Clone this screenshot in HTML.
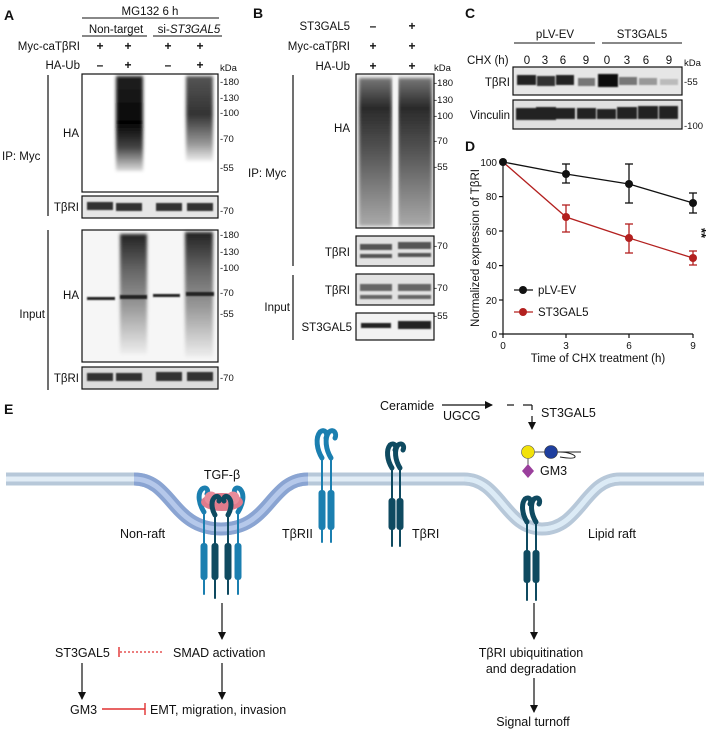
<!DOCTYPE html>
<html><head><meta charset="utf-8"><style>
html,body{margin:0;padding:0;background:#fff}
svg{display:block}
text{font-family:"Liberation Sans",sans-serif;fill:#111}
</style></head><body>
<svg width="708" height="733" viewBox="0 0 708 733" xmlns="http://www.w3.org/2000/svg">
<defs>
<filter id="b1" x="-20%" y="-20%" width="140%" height="140%"><feGaussianBlur stdDeviation="1.6"/></filter>
<filter id="b2" x="-20%" y="-20%" width="140%" height="140%"><feGaussianBlur stdDeviation="0.9"/></filter>
<linearGradient id="smA" x1="0" y1="0" x2="0" y2="1"><stop offset="0" stop-color="#222"/><stop offset="0.5" stop-color="#050505"/><stop offset="0.75" stop-color="#444"/><stop offset="1" stop-color="#ddd"/></linearGradient>
<linearGradient id="smA2" x1="0" y1="0" x2="0" y2="1"><stop offset="0" stop-color="#555"/><stop offset="0.45" stop-color="#333"/><stop offset="0.8" stop-color="#999"/><stop offset="1" stop-color="#eee"/></linearGradient>
<linearGradient id="smI" x1="0" y1="0" x2="0" y2="1"><stop offset="0" stop-color="#222"/><stop offset="0.3" stop-color="#666"/><stop offset="0.6" stop-color="#999"/><stop offset="1" stop-color="#eee"/></linearGradient>
<linearGradient id="smB" x1="0" y1="0" x2="0" y2="1"><stop offset="0" stop-color="#777"/><stop offset="0.2" stop-color="#2a2a2a"/><stop offset="0.5" stop-color="#555"/><stop offset="1" stop-color="#aaa"/></linearGradient>
<marker id="ar" markerWidth="8" markerHeight="8" refX="7" refY="4" orient="auto" markerUnits="userSpaceOnUse"><path d="M0,0 L8,4 L0,8 z" fill="#111"/></marker>
</defs>

<!-- ===== Panel A ===== -->
<text x="4" y="20" font-size="14" font-weight="bold">A</text>
<text x="150" y="15" font-size="11.5" text-anchor="middle">MG132 6 h</text>
<line x1="82" y1="18" x2="219" y2="18" stroke="#111" stroke-width="1"/>
<text x="116" y="33" font-size="11.5" text-anchor="middle">Non-target</text>
<line x1="82" y1="36" x2="147" y2="36" stroke="#111"/>
<text x="189" y="33" font-size="11.5" text-anchor="middle">si-<tspan font-style="italic">ST3GAL5</tspan></text>
<line x1="153" y1="36" x2="222" y2="36" stroke="#111"/>
<text x="80" y="50" font-size="11.5" text-anchor="end">Myc-caTβRI</text>
<text x="80" y="69" font-size="11.5" text-anchor="end">HA-Ub</text>
<g font-size="12" text-anchor="middle" font-weight="bold">
<text x="100" y="50">+</text><text x="128" y="50">+</text><text x="168" y="50">+</text><text x="200" y="50">+</text>
<text x="100" y="69">–</text><text x="128" y="69">+</text><text x="168" y="69">–</text><text x="200" y="69">+</text>
</g>
<text x="220" y="71" font-size="9.5">kDa</text>
<g filter="url(#b1)">
<rect x="116" y="76" width="27" height="95" fill="url(#smA)"/>
<rect x="186" y="76" width="27" height="85" fill="url(#smA2)"/>
</g>
<rect x="82" y="74" width="136" height="118" fill="none" stroke="#111" stroke-width="1.2"/>
<rect x="82" y="196" width="136" height="22" fill="#e6e6e6"/>
<g filter="url(#b2)" fill="#333">
<rect x="87" y="202" width="26" height="8"/><rect x="116" y="203" width="26" height="8"/><rect x="156" y="203" width="26" height="8"/><rect x="187" y="203" width="26" height="8"/>
</g>
<rect x="82" y="196" width="136" height="22" fill="none" stroke="#111" stroke-width="1.2"/>
<rect x="82" y="230" width="136" height="132" fill="#f6f6f6"/>
<g filter="url(#b1)">
<rect x="120" y="234" width="27" height="120" fill="url(#smI)"/>
<rect x="185" y="232" width="28" height="125" fill="url(#smI)"/>
</g>
<g filter="url(#b2)" fill="#222">
<rect x="87" y="297" width="28" height="3"/><rect x="120" y="295" width="27" height="4"/><rect x="153" y="294" width="27" height="3"/><rect x="186" y="292" width="28" height="4"/>
</g>
<rect x="82" y="230" width="136" height="132" fill="none" stroke="#111" stroke-width="1.2"/>
<rect x="82" y="367" width="136" height="22" fill="#ddd"/>
<g filter="url(#b2)" fill="#333">
<rect x="87" y="373" width="26" height="8"/><rect x="116" y="373" width="26" height="8"/><rect x="156" y="372" width="26" height="9"/><rect x="187" y="372" width="26" height="9"/>
</g>
<rect x="82" y="367" width="136" height="22" fill="none" stroke="#111" stroke-width="1.2"/>
<g font-size="9.5">
<text x="220" y="85">-180</text><text x="220" y="101">-130</text><text x="220" y="116">-100</text><text x="220" y="142">-70</text><text x="220" y="171">-55</text>
<text x="220" y="214">-70</text>
<text x="220" y="238">-180</text><text x="220" y="255">-130</text><text x="220" y="271">-100</text><text x="220" y="296">-70</text><text x="220" y="317">-55</text>
<text x="220" y="381">-70</text>
</g>
<text x="79" y="137" font-size="11.5" text-anchor="end">HA</text>
<text x="79" y="211" font-size="11.5" text-anchor="end">TβRI</text>
<text x="79" y="299" font-size="11.5" text-anchor="end">HA</text>
<text x="79" y="382" font-size="11.5" text-anchor="end">TβRI</text>
<line x1="48" y1="75" x2="48" y2="216" stroke="#111" stroke-width="1.2"/>
<text x="2" y="160" font-size="11.5">IP: Myc</text>
<line x1="48" y1="230" x2="48" y2="390" stroke="#111" stroke-width="1.2"/>
<text x="45" y="318" font-size="11.5" text-anchor="end">Input</text>

<!-- ===== Panel B ===== -->
<text x="253" y="18" font-size="14" font-weight="bold">B</text>
<text x="350" y="30" font-size="11.5" text-anchor="end">ST3GAL5</text>
<text x="350" y="50" font-size="11.5" text-anchor="end">Myc-caTβRI</text>
<text x="350" y="70" font-size="11.5" text-anchor="end">HA-Ub</text>
<g font-size="12" text-anchor="middle" font-weight="bold">
<text x="373" y="30">–</text><text x="412" y="30">+</text>
<text x="373" y="50">+</text><text x="412" y="50">+</text>
<text x="373" y="70">+</text><text x="412" y="70">+</text>
</g>
<text x="434" y="71" font-size="9.5">kDa</text>
<rect x="356" y="74" width="78" height="154" fill="#eee"/>
<g filter="url(#b1)">
<rect x="359" y="78" width="33" height="148" fill="url(#smB)"/>
<rect x="398" y="78" width="34" height="148" fill="url(#smB)"/>
</g>
<rect x="393" y="74" width="5" height="154" fill="#f4f4f4" filter="url(#b2)"/>
<rect x="356" y="74" width="78" height="154" fill="none" stroke="#111" stroke-width="1.2"/>
<rect x="356" y="236" width="78" height="30" fill="#e2e2e2"/>
<g filter="url(#b2)" fill="#555"><rect x="360" y="244" width="32" height="6"/><rect x="398" y="242" width="33" height="7"/><rect x="360" y="254" width="32" height="4"/><rect x="398" y="253" width="33" height="4"/></g>
<rect x="356" y="236" width="78" height="30" fill="none" stroke="#111" stroke-width="1.2"/>
<rect x="356" y="274" width="78" height="31" fill="#e2e2e2"/>
<g filter="url(#b2)" fill="#666"><rect x="360" y="284" width="32" height="7"/><rect x="398" y="284" width="33" height="7"/><rect x="360" y="295" width="32" height="4"/><rect x="398" y="295" width="33" height="4"/></g>
<rect x="356" y="274" width="78" height="31" fill="none" stroke="#111" stroke-width="1.2"/>
<rect x="356" y="313" width="78" height="27" fill="#f2f2f2"/>
<g filter="url(#b2)" fill="#222"><rect x="361" y="323" width="30" height="5"/><rect x="398" y="321" width="33" height="8"/></g>
<rect x="356" y="313" width="78" height="27" fill="none" stroke="#111" stroke-width="1.2"/>
<g font-size="9.5">
<text x="434" y="86">-180</text><text x="434" y="103">-130</text><text x="434" y="119">-100</text><text x="434" y="144">-70</text><text x="434" y="170">-55</text>
<text x="434" y="249">-70</text><text x="434" y="291">-70</text><text x="434" y="319">-55</text>
</g>
<text x="350" y="132" font-size="11.5" text-anchor="end">HA</text>
<text x="350" y="256" font-size="11.5" text-anchor="end">TβRI</text>
<text x="350" y="294" font-size="11.5" text-anchor="end">TβRI</text>
<text x="352" y="331" font-size="11.5" text-anchor="end">ST3GAL5</text>
<line x1="293" y1="75" x2="293" y2="266" stroke="#111" stroke-width="1.2"/>
<text x="248" y="177" font-size="11.5">IP: Myc</text>
<line x1="293" y1="275" x2="293" y2="340" stroke="#111" stroke-width="1.2"/>
<text x="290" y="311" font-size="11.5" text-anchor="end">Input</text>

<!-- ===== Panel C ===== -->
<text x="465" y="18" font-size="14" font-weight="bold">C</text>
<text x="555" y="38" font-size="11.5" text-anchor="middle">pLV-EV</text>
<line x1="514" y1="43" x2="595" y2="43" stroke="#111"/>
<text x="642" y="38" font-size="11.5" text-anchor="middle">ST3GAL5</text>
<line x1="602" y1="43" x2="682" y2="43" stroke="#111"/>
<text x="467" y="64" font-size="11.5">CHX (h)</text>
<g font-size="11.5" text-anchor="middle">
<text x="527" y="64">0</text><text x="545" y="64">3</text><text x="563" y="64">6</text><text x="586" y="64">9</text>
<text x="607" y="64">0</text><text x="627" y="64">3</text><text x="646" y="64">6</text><text x="669" y="64">9</text>
</g>
<text x="684" y="66" font-size="9.5">kDa</text>
<rect x="513" y="67" width="169" height="28" fill="#e6e6e6"/>
<g filter="url(#b2)">
<rect x="517" y="75" width="19" height="10" fill="#222"/><rect x="537" y="76" width="18" height="10" fill="#333"/><rect x="556" y="75" width="18" height="10" fill="#222"/><rect x="578" y="78" width="17" height="8" fill="#777"/>
<rect x="598" y="74" width="20" height="13" fill="#111"/><rect x="619" y="77" width="18" height="8" fill="#777"/><rect x="639" y="78" width="18" height="7" fill="#999"/><rect x="660" y="79" width="18" height="6" fill="#bbb"/>
</g>
<rect x="513" y="67" width="169" height="28" fill="none" stroke="#111" stroke-width="1.2"/>
<rect x="513" y="100" width="169" height="29" fill="#e0e0e0"/>
<g filter="url(#b2)" fill="#222">
<rect x="516" y="108" width="20" height="12"/><rect x="536" y="107" width="20" height="13"/><rect x="556" y="108" width="19" height="11"/><rect x="577" y="108" width="19" height="11"/>
<rect x="597" y="109" width="19" height="10"/><rect x="617" y="107" width="20" height="12"/><rect x="638" y="106" width="20" height="13"/><rect x="659" y="106" width="19" height="13"/>
</g>
<rect x="513" y="100" width="169" height="29" fill="none" stroke="#111" stroke-width="1.2"/>
<text x="684" y="85" font-size="9.5">-55</text>
<text x="684" y="129" font-size="9.5">-100</text>
<text x="510" y="86" font-size="11.5" text-anchor="end">TβRI</text>
<text x="510" y="119" font-size="11.5" text-anchor="end">Vinculin</text>

<!-- ===== Panel D ===== -->
<text x="465" y="151" font-size="14" font-weight="bold">D</text>
<line x1="503" y1="160" x2="503" y2="334" stroke="#111" stroke-width="1.2"/>
<line x1="503" y1="334" x2="693" y2="334" stroke="#111" stroke-width="1.2"/>
<g stroke="#111" stroke-width="1.2">
<line x1="499" y1="162" x2="503" y2="162"/><line x1="499" y1="196.6" x2="503" y2="196.6"/><line x1="499" y1="231" x2="503" y2="231"/><line x1="499" y1="265.6" x2="503" y2="265.6"/><line x1="499" y1="300" x2="503" y2="300"/><line x1="499" y1="334" x2="503" y2="334"/>
<line x1="503" y1="334" x2="503" y2="338"/><line x1="566" y1="334" x2="566" y2="338"/><line x1="629" y1="334" x2="629" y2="338"/><line x1="693" y1="334" x2="693" y2="338"/>
</g>
<g font-size="10" text-anchor="end">
<text x="497" y="166">100</text><text x="497" y="200">80</text><text x="497" y="235">60</text><text x="497" y="269">40</text><text x="497" y="304">20</text><text x="497" y="338">0</text>
</g>
<g font-size="10" text-anchor="middle">
<text x="503" y="349">0</text><text x="566" y="349">3</text><text x="629" y="349">6</text><text x="693" y="349">9</text>
</g>
<text x="598" y="362" font-size="11.5" text-anchor="middle">Time of CHX treatment (h)</text>
<text transform="translate(479,248) rotate(-90)" font-size="11.5" text-anchor="middle">Normalized expression of TβRI</text>
<g stroke="#b3201f" stroke-width="1.3" fill="none">
<polyline points="503,162 566,217 629,238 693,258"/>
<line x1="566" y1="205" x2="566" y2="232"/><line x1="562" y1="205" x2="570" y2="205"/><line x1="562" y1="232" x2="570" y2="232"/>
<line x1="629" y1="224" x2="629" y2="253"/><line x1="625" y1="224" x2="633" y2="224"/><line x1="625" y1="253" x2="633" y2="253"/>
<line x1="693" y1="251" x2="693" y2="265"/><line x1="689" y1="251" x2="697" y2="251"/><line x1="689" y1="265" x2="697" y2="265"/>
</g>
<g fill="#b3201f"><circle cx="566" cy="217" r="4"/><circle cx="629" cy="238" r="4"/><circle cx="693" cy="258" r="4"/></g>
<g stroke="#111" stroke-width="1.3" fill="none">
<polyline points="503,162 566,174 629,184 693,203"/>
<line x1="566" y1="164" x2="566" y2="183"/><line x1="562" y1="164" x2="570" y2="164"/><line x1="562" y1="183" x2="570" y2="183"/>
<line x1="629" y1="164" x2="629" y2="203"/><line x1="625" y1="164" x2="633" y2="164"/><line x1="625" y1="203" x2="633" y2="203"/>
<line x1="693" y1="193" x2="693" y2="213"/><line x1="689" y1="193" x2="697" y2="193"/><line x1="689" y1="213" x2="697" y2="213"/>
</g>
<g fill="#111"><circle cx="503" cy="162" r="4"/><circle cx="566" cy="174" r="4"/><circle cx="629" cy="184" r="4"/><circle cx="693" cy="203" r="4"/></g>
<text transform="translate(697,233) rotate(90)" font-size="13" font-weight="bold" text-anchor="middle">**</text>
<line x1="514" y1="290" x2="533" y2="290" stroke="#111" stroke-width="1.3"/><circle cx="523" cy="290" r="4" fill="#111"/>
<text x="538" y="294" font-size="11.5">pLV-EV</text>
<line x1="514" y1="312" x2="533" y2="312" stroke="#b3201f" stroke-width="1.3"/><circle cx="523" cy="312" r="4" fill="#b3201f"/>
<text x="538" y="316" font-size="11.5">ST3GAL5</text>

<!-- ===== Panel E ===== -->
<text x="4" y="414" font-size="14" font-weight="bold">E</text>
<path d="M6,479 H134 C172,479 172,529 221,529 C270,529 270,479 308,479 H464 C500,479 505,529 542,529 C580,529 585,479 620,479 H704" fill="none" stroke="#b7c8d9" stroke-width="13"/>
<path d="M6,479 H134 C172,479 172,529 221,529 C270,529 270,479 308,479 H464 C500,479 505,529 542,529 C580,529 585,479 620,479 H704" fill="none" stroke="#e2edf6" stroke-width="5"/>
<path d="M134,479 C172,479 172,529 221,529 C270,529 270,479 308,479" fill="none" stroke="#8aa4d2" stroke-width="13"/>
<path d="M134,479 C172,479 172,529 221,529 C270,529 270,479 308,479" fill="none" stroke="#b5c8ea" stroke-width="5"/>
<path d="M464,479 C500,479 505,529 542,529 C580,529 585,479 620,479" fill="none" stroke="#dcebf6" stroke-width="5"/>

<!-- TbRII -->
<g stroke="#1b7fb0" fill="none" stroke-linecap="round">
<path d="M322,458 C317,450 315,438 320,432 C325,428 328,434 326,438" stroke-width="5"/>
<path d="M331,458 C326,450 324,438 329,432 C334,428 337,434 335,438" stroke-width="5"/>
<line x1="322" y1="458" x2="322" y2="542" stroke-width="2"/><line x1="331" y1="458" x2="331" y2="542" stroke-width="2"/>
</g>
<rect x="318.5" y="490" width="7" height="40" rx="3" fill="#1b7fb0"/>
<rect x="327.5" y="490" width="7" height="40" rx="3" fill="#1b7fb0"/>
<!-- TbRI -->
<g stroke="#0f4a60" fill="none" stroke-linecap="round">
<path d="M392,468 C387,460 386,450 390,445 C394,442 397,446 395,450" stroke-width="5"/>
<path d="M400,468 C395,460 394,450 398,445 C402,442 405,446 403,450" stroke-width="5"/>
<line x1="392" y1="468" x2="392" y2="546" stroke-width="2"/><line x1="400" y1="468" x2="400" y2="546" stroke-width="2"/>
</g>
<rect x="388.5" y="498" width="7" height="32" rx="3" fill="#0f4a60"/>
<rect x="396.5" y="498" width="7" height="32" rx="3" fill="#0f4a60"/>
<!-- raft TbRI -->
<g stroke="#0f4a60" fill="none" stroke-linecap="round">
<path d="M527,522 C522,514 521,504 525,499 C529,496 532,500 530,504" stroke-width="5"/>
<path d="M536,522 C531,514 530,504 534,499 C538,496 541,500 539,504" stroke-width="5"/>
<line x1="527" y1="522" x2="527" y2="600" stroke-width="2"/><line x1="536" y1="522" x2="536" y2="600" stroke-width="2"/>
</g>
<rect x="523.5" y="550" width="7" height="33" rx="3" fill="#0f4a60"/>
<rect x="532.5" y="550" width="7" height="33" rx="3" fill="#0f4a60"/>
<!-- complex -->
<g stroke-linecap="round" fill="none">
<path d="M204,512 C199,504 197,494 202,489 C206,486 209,490 207,494" stroke="#1b7fb0" stroke-width="5"/>
<path d="M238,512 C243,504 245,494 240,489 C236,486 233,490 235,494" stroke="#1b7fb0" stroke-width="5"/>
</g>
<ellipse cx="222" cy="502" rx="21" ry="9" fill="#e07b8c"/>
<circle cx="211" cy="498" r="6.5" fill="#e88c9b"/><circle cx="233" cy="498" r="6.5" fill="#e88c9b"/>
<g stroke-linecap="round" fill="none">
<path d="M215,515 C211,508 211,500 215,497 C218,495 220,498 219,501" stroke="#0f4a60" stroke-width="5"/>
<path d="M228,515 C232,508 232,500 228,497 C225,495 223,498 224,501" stroke="#0f4a60" stroke-width="5"/>
<line x1="204" y1="512" x2="204" y2="594" stroke="#1b7fb0" stroke-width="2"/>
<line x1="238" y1="512" x2="238" y2="594" stroke="#1b7fb0" stroke-width="2"/>
<line x1="215" y1="515" x2="215" y2="598" stroke="#0f4a60" stroke-width="2"/>
<line x1="228" y1="515" x2="228" y2="594" stroke="#0f4a60" stroke-width="2"/>
</g>
<rect x="200.5" y="543" width="7" height="37" rx="3" fill="#1b7fb0"/>
<rect x="211.5" y="543" width="7" height="37" rx="3" fill="#0f4a60"/>
<rect x="224.5" y="543" width="7" height="37" rx="3" fill="#0f4a60"/>
<rect x="234.5" y="543" width="7" height="37" rx="3" fill="#1b7fb0"/>

<g font-size="12.5">
<text x="222" y="479" text-anchor="middle">TGF-β</text>
<text x="120" y="538">Non-raft</text>
<text x="282" y="538">TβRII</text>
<text x="412" y="538">TβRI</text>
<text x="588" y="538">Lipid raft</text>
<text x="380" y="410">Ceramide</text>
<text x="443" y="420">UGCG</text>
<text x="541" y="417">ST3GAL5</text>
<text x="540" y="475">GM3</text>
</g>
<line x1="442" y1="405" x2="492" y2="405" stroke="#111" stroke-width="1.2" marker-end="url(#ar)"/>
<line x1="507" y1="405" x2="514" y2="405" stroke="#111" stroke-width="1.2"/>
<line x1="523" y1="405" x2="532" y2="405" stroke="#111" stroke-width="1.2"/>
<line x1="532" y1="405" x2="532" y2="410" stroke="#111" stroke-width="1.2"/>
<line x1="532" y1="416" x2="532" y2="429" stroke="#111" stroke-width="1.2" marker-end="url(#ar)"/>
<line x1="528" y1="452" x2="551" y2="452" stroke="#555" stroke-width="1"/>
<line x1="528" y1="452" x2="528" y2="471" stroke="#555" stroke-width="1"/>
<path d="M557,452 H581 M560,452 C568,452 576,455 575,457 C574,459 566,458 560,457" fill="none" stroke="#222" stroke-width="1"/>
<circle cx="528" cy="452" r="6.5" fill="#f2e20a" stroke="#555" stroke-width="0.6"/>
<circle cx="551" cy="452" r="6.5" fill="#1f3f9e" stroke="#333" stroke-width="0.6"/>
<path d="M528,464 L534,471 L528,478 L522,471 z" fill="#9a3f9c"/>

<line x1="222" y1="603" x2="222" y2="639" stroke="#111" stroke-width="1.2" marker-end="url(#ar)"/>
<line x1="534" y1="603" x2="534" y2="639" stroke="#111" stroke-width="1.2" marker-end="url(#ar)"/>
<g font-size="12.5">
<text x="55" y="657">ST3GAL5</text>
<text x="173" y="657">SMAD activation</text>
<text x="70" y="714">GM3</text>
<text x="150" y="714">EMT, migration, invasion</text>
<text x="531" y="657" text-anchor="middle">TβRI ubiquitination</text>
<text x="531" y="673" text-anchor="middle">and degradation</text>
<text x="533" y="726" text-anchor="middle">Signal turnoff</text>
</g>
<line x1="120" y1="652" x2="164" y2="652" stroke="#e03030" stroke-width="1.2" stroke-dasharray="2,2"/>
<line x1="119" y1="647" x2="119" y2="657" stroke="#e03030" stroke-width="1.4"/>
<line x1="102" y1="709" x2="145" y2="709" stroke="#e03030" stroke-width="1.4"/>
<line x1="145" y1="703" x2="145" y2="715" stroke="#e03030" stroke-width="1.4"/>
<line x1="82" y1="663" x2="82" y2="699" stroke="#111" stroke-width="1.2" marker-end="url(#ar)"/>
<line x1="222" y1="663" x2="222" y2="699" stroke="#111" stroke-width="1.2" marker-end="url(#ar)"/>
<line x1="534" y1="678" x2="534" y2="712" stroke="#111" stroke-width="1.2" marker-end="url(#ar)"/>
</svg>
</body></html>
